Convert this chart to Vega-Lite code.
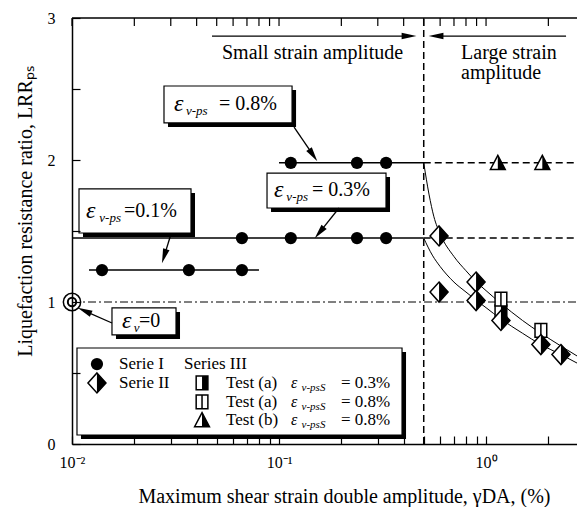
{
  "$schema": "https://vega.github.io/schema/vega-lite/v6.json",
  "width": 505,
  "height": 426,
  "autosize": "none",
  "padding": {"left": 72, "top": 18, "right": 0, "bottom": 63},
  "background": "white",
  "config": {
    "view": {"stroke": null},
    "font": "Liberation Serif",
    "axis": {
      "domainColor": "black", "domainWidth": 1.5, "tickColor": "black", "tickWidth": 1.2,
      "labelColor": "black", "titleColor": "black", "labelFont": "Liberation Serif", "titleFont": "Liberation Serif",
      "labelFontSize": 16, "titleFontSize": 20, "titleFontWeight": "normal", "grid": false
    }
  },
  "datasets": {
    "frame": [{"x": 0.01, "xe": 2.75, "y": 3}],
    "topticks": [
      {"x": 0.01, "y": 3}, {"x": 0.02, "y": 3}, {"x": 0.03, "y": 3}, {"x": 0.04, "y": 3}, {"x": 0.05, "y": 3},
      {"x": 0.06, "y": 3}, {"x": 0.07, "y": 3}, {"x": 0.08, "y": 3}, {"x": 0.09, "y": 3}, {"x": 0.1, "y": 3},
      {"x": 0.2, "y": 3}, {"x": 0.3, "y": 3}, {"x": 0.4, "y": 3}, {"x": 0.5, "y": 3}, {"x": 0.6, "y": 3},
      {"x": 0.7, "y": 3}, {"x": 0.8, "y": 3}, {"x": 0.9, "y": 3}, {"x": 1, "y": 3}, {"x": 2, "y": 3}
    ],
    "boxes": [
      {"x": 0.02782, "xe": 0.1156, "y": 2.521, "ye": 2.261},
      {"x": 0.01081, "xe": 0.03757, "y": 1.796, "ye": 1.486},
      {"x": 0.0875, "xe": 0.3287, "y": 1.908, "ye": 1.662},
      {"x": 0.0156, "xe": 0.0318, "y": 0.958, "ye": 0.768},
      {"x": 0.01057, "xe": 0.3928, "y": 0.676, "ye": 0.0634}
    ],
    "lines": [
      {"id": "s1", "k": "solid", "x": 0.01208, "y": 1.225}, {"id": "s1", "k": "solid", "x": 0.08, "y": 1.225},
      {"id": "s2", "k": "solid", "x": 0.01, "y": 1.45}, {"id": "s2", "k": "solid", "x": 0.5, "y": 1.45},
      {"id": "s3", "k": "solid", "x": 0.1, "y": 1.98}, {"id": "s3", "k": "solid", "x": 0.5, "y": 1.98},
      {"id": "d1", "k": "dash", "x": 0.5, "y": 1.98}, {"id": "d1", "k": "dash", "x": 2.75, "y": 1.98},
      {"id": "d2", "k": "dash", "x": 0.5, "y": 1.45}, {"id": "d2", "k": "dash", "x": 2.75, "y": 1.45},
      {"id": "v", "k": "dash", "x": 0.5, "y": 0}, {"id": "v", "k": "dash", "x": 0.5, "y": 3},
      {"id": "dd", "k": "dashdot", "x": 0.01, "y": 1}, {"id": "dd", "k": "dashdot", "x": 2.75, "y": 1},
      {"id": "c1", "k": "curve", "x": 0.5, "y": 1.98}, {"id": "c1", "k": "curve", "x": 0.53, "y": 1.76},
      {"id": "c1", "k": "curve", "x": 0.56, "y": 1.6}, {"id": "c1", "k": "curve", "x": 0.6, "y": 1.48},
      {"id": "c1", "k": "curve", "x": 0.7, "y": 1.32}, {"id": "c1", "k": "curve", "x": 0.8, "y": 1.22},
      {"id": "c1", "k": "curve", "x": 0.9, "y": 1.14}, {"id": "c1", "k": "curve", "x": 1.0, "y": 1.08},
      {"id": "c1", "k": "curve", "x": 1.18, "y": 0.99}, {"id": "c1", "k": "curve", "x": 1.5, "y": 0.87},
      {"id": "c1", "k": "curve", "x": 1.84, "y": 0.78}, {"id": "c1", "k": "curve", "x": 2.3, "y": 0.69},
      {"id": "c1", "k": "curve", "x": 2.75, "y": 0.62},
      {"id": "c2", "k": "curve", "x": 0.5, "y": 1.45}, {"id": "c2", "k": "curve", "x": 0.55, "y": 1.33},
      {"id": "c2", "k": "curve", "x": 0.6, "y": 1.25}, {"id": "c2", "k": "curve", "x": 0.7, "y": 1.14},
      {"id": "c2", "k": "curve", "x": 0.8, "y": 1.07}, {"id": "c2", "k": "curve", "x": 0.9, "y": 1.01},
      {"id": "c2", "k": "curve", "x": 1.0, "y": 0.96}, {"id": "c2", "k": "curve", "x": 1.18, "y": 0.88},
      {"id": "c2", "k": "curve", "x": 1.5, "y": 0.78}, {"id": "c2", "k": "curve", "x": 1.84, "y": 0.7},
      {"id": "c2", "k": "curve", "x": 2.3, "y": 0.63}, {"id": "c2", "k": "curve", "x": 2.75, "y": 0.57}
    ],
    "arrows": [
      {"id": "a1", "x": 0.1182, "y": 2.232}, {"id": "a1", "x": 0.1462, "y": 2.034},
      {"id": "a2", "x": 0.1949, "y": 1.662}, {"id": "a2", "x": 0.1567, "y": 1.489},
      {"id": "a3", "x": 0.03008, "y": 1.479}, {"id": "a3", "x": 0.02786, "y": 1.322},
      {"id": "a4", "x": 0.0156, "y": 0.852}, {"id": "a4", "x": 0.01148, "y": 0.938},
      {"id": "t1", "x": 0.04746, "y": 2.873}, {"id": "t1", "x": 0.4247, "y": 2.873},
      {"id": "t2", "x": 0.5734, "y": 2.873}, {"id": "t2", "x": 2.435, "y": 2.873}
    ],
    "heads": [
      {"x": 0.1462, "y": 2.034, "a": 146},
      {"x": 0.1567, "y": 1.489, "a": 219},
      {"x": 0.02786, "y": 1.322, "a": 197},
      {"x": 0.01148, "y": 0.938, "a": 294},
      {"x": 0.4247, "y": 2.873, "a": 90},
      {"x": 0.5734, "y": 2.873, "a": 270}
    ],
    "pts": [
      {"s": "I", "x": 0.01396, "y": 1.225}, {"s": "I", "x": 0.0367, "y": 1.225}, {"s": "I", "x": 0.0662, "y": 1.225},
      {"s": "I", "x": 0.0662, "y": 1.45}, {"s": "I", "x": 0.114, "y": 1.45}, {"s": "I", "x": 0.238, "y": 1.45}, {"s": "I", "x": 0.329, "y": 1.45},
      {"s": "I", "x": 0.114, "y": 1.98}, {"s": "I", "x": 0.238, "y": 1.98}, {"s": "I", "x": 0.329, "y": 1.98},
      {"s": "I", "x": 0.0132, "y": 0.563},
      {"s": "IIIa3", "x": 1.18, "y": 0.93}, {"s": "IIIa3", "x": 0.04247, "y": 0.43},
      {"s": "IIIa8", "x": 1.18, "y": 1.02}, {"s": "IIIa8", "x": 1.84, "y": 0.8}, {"s": "IIIa8", "x": 0.04247, "y": 0.296},
      {"s": "IIIb", "x": 1.14, "y": 1.98}, {"s": "IIIb", "x": 1.87, "y": 1.98}, {"s": "IIIb", "x": 0.04247, "y": 0.169},
      {"s": "II", "x": 0.593, "y": 1.465}, {"s": "II", "x": 0.593, "y": 1.07}, {"s": "II", "x": 0.895, "y": 1.14},
      {"s": "II", "x": 0.895, "y": 1.01}, {"s": "II", "x": 1.18, "y": 0.87}, {"s": "II", "x": 1.84, "y": 0.7},
      {"s": "II", "x": 2.3, "y": 0.63}, {"s": "II", "x": 0.0132, "y": 0.43},
      {"s": "O", "x": 0.01, "y": 1}
    ],
    "texts": [
      {"k": "eps", "x": 0.03111, "y": 2.394, "t": "ε"}, {"k": "sub", "x": 0.0355, "y": 2.394, "t": "v-ps"}, {"k": "main", "x": 0.05129, "y": 2.394, "t": "= 0.8%"},
      {"k": "eps", "x": 0.01168, "y": 1.641, "t": "ε"}, {"k": "sub", "x": 0.01355, "y": 1.641, "t": "v-ps"}, {"k": "main", "x": 0.01783, "y": 1.641, "t": "=0.1%"},
      {"k": "eps", "x": 0.0946, "y": 1.789, "t": "ε"}, {"k": "sub", "x": 0.1085, "y": 1.789, "t": "v-ps"}, {"k": "main", "x": 0.1443, "y": 1.789, "t": "= 0.3%"},
      {"k": "eps", "x": 0.01744, "y": 0.866, "t": "ε"}, {"k": "sub", "x": 0.0199, "y": 0.866, "t": "v"}, {"k": "main", "x": 0.02107, "y": 0.866, "t": "=0"},
      {"k": "main", "x": 0.05303, "y": 2.754, "t": "Small strain amplitude"},
      {"k": "main", "x": 0.7572, "y": 2.754, "t": "Large strain"},
      {"k": "main", "x": 0.7572, "y": 2.613, "t": "amplitude"},
      {"k": "leg", "x": 0.01687, "y": 0.563, "t": "Serie I"}, {"k": "leg", "x": 0.03476, "y": 0.563, "t": "Series III"},
      {"k": "leg", "x": 0.01687, "y": 0.43, "t": "Serie II"},
      {"k": "leg", "x": 0.05546, "y": 0.43, "t": "Test (a)"}, {"k": "leg", "x": 0.05546, "y": 0.296, "t": "Test (a)"}, {"k": "leg", "x": 0.05546, "y": 0.169, "t": "Test (b)"},
      {"k": "legeps", "x": 0.1143, "y": 0.43, "t": "ε"}, {"k": "legeps", "x": 0.1143, "y": 0.296, "t": "ε"}, {"k": "legeps", "x": 0.1143, "y": 0.169, "t": "ε"},
      {"k": "legsub", "x": 0.1285, "y": 0.43, "t": "v-psS"}, {"k": "legsub", "x": 0.1285, "y": 0.296, "t": "v-psS"}, {"k": "legsub", "x": 0.1285, "y": 0.169, "t": "v-psS"},
      {"k": "leg", "x": 0.1993, "y": 0.43, "t": "= 0.3%"}, {"k": "leg", "x": 0.1993, "y": 0.296, "t": "= 0.8%"}, {"k": "leg", "x": 0.1993, "y": 0.169, "t": "= 0.8%"}
    ]
  },
  "encoding": {
    "x": {"field": "x", "type": "quantitative", "scale": {"type": "log", "domain": [0.01, 2.75], "nice": false}, "axis": {
      "orient": "bottom", "title": "Maximum shear strain double amplitude, γDA, (%)",
      "values": [0.01, 0.02, 0.03, 0.04, 0.05, 0.06, 0.07, 0.08, 0.09, 0.1, 0.2, 0.3, 0.4, 0.5, 0.6, 0.7, 0.8, 0.9, 1, 2],
      "labelExpr": "datum.value == 0.01 ? '10⁻²' : (datum.value == 0.1 ? '10⁻¹' : (datum.value == 1 ? '10⁰' : ''))",
      "tickSize": -8, "labelPadding": 18, "labelFlush": false, "labelOverlap": false, "titlePadding": 16, "titleX": 272, "zindex": 2}},
    "y": {"field": "y", "type": "quantitative", "scale": {"domain": [0, 3], "nice": false, "zero": false}, "axis": {
      "orient": "left", "title": "Liquefaction resistance ratio, LRRₚₛ",
      "values": [0, 0.5, 1, 1.5, 2, 2.5, 3],
      "labelExpr": "datum.value % 1 == 0 ? format(datum.value, 'd') : ''",
      "tickSize": -8, "labelPadding": 25, "labelFlush": false, "labelOverlap": false, "titlePadding": 12, "titleY": 193, "zindex": 2}}
  },
  "layer": [
    {
      "data": {"name": "frame"},
      "mark": {"type": "rule", "color": "black", "strokeWidth": 1.5},
      "encoding": {"x2": {"field": "xe"}}
    },
    {
      "data": {"name": "topticks"},
      "mark": {"type": "tick", "orient": "vertical", "size": 8, "thickness": 1.2, "color": "black", "opacity": 1, "yOffset": 4}
    },
    {
      "data": {"name": "lines"},
      "transform": [{"filter": "datum.k == 'dash'"}],
      "mark": {"type": "line", "color": "black", "strokeWidth": 1.5, "strokeDash": [7, 4]},
      "encoding": {"detail": {"field": "id"}}
    },
    {
      "data": {"name": "lines"},
      "transform": [{"filter": "datum.k == 'dashdot'"}],
      "mark": {"type": "line", "color": "black", "strokeWidth": 1, "strokeDash": [8, 3, 2, 3]},
      "encoding": {"detail": {"field": "id"}}
    },
    {
      "data": {"name": "lines"},
      "transform": [{"filter": "datum.k == 'solid'"}],
      "mark": {"type": "line", "color": "black", "strokeWidth": 1.5},
      "encoding": {"detail": {"field": "id"}}
    },
    {
      "data": {"name": "lines"},
      "transform": [{"filter": "datum.k == 'curve'"}],
      "mark": {"type": "line", "color": "black", "strokeWidth": 1, "interpolate": "monotone"},
      "encoding": {"detail": {"field": "id"}}
    },
    {
      "data": {"name": "boxes"},
      "mark": {"type": "rect", "color": "black", "xOffset": 4, "x2Offset": 4, "yOffset": 4, "y2Offset": 4},
      "encoding": {"x2": {"field": "xe"}, "y2": {"field": "ye"}}
    },
    {
      "data": {"name": "boxes"},
      "mark": {"type": "rect", "fill": "white", "stroke": "black", "strokeWidth": 1.2},
      "encoding": {"x2": {"field": "xe"}, "y2": {"field": "ye"}}
    },
    {
      "data": {"name": "arrows"},
      "mark": {"type": "line", "color": "black", "strokeWidth": 1.3},
      "encoding": {"detail": {"field": "id"}}
    },
    {
      "data": {"name": "heads"},
      "mark": {"type": "point", "shape": "M0,-1L0.45,1L-0.45,1Z", "size": 220, "filled": true, "color": "black", "opacity": 1},
      "encoding": {"angle": {"field": "a", "type": "quantitative", "scale": null}}
    },
    {
      "data": {"name": "pts"},
      "transform": [{"filter": "datum.s == 'I'"}],
      "mark": {"type": "point", "shape": "circle", "size": 150, "filled": true, "color": "black", "opacity": 1}
    },
    {
      "data": {"name": "pts"},
      "transform": [{"filter": "datum.s == 'IIIa3'"}],
      "mark": {"type": "point", "shape": "M-0.85,-1L0.85,-1L0.85,1L-0.85,1Z", "size": 190, "filled": true, "fill": "white", "stroke": "black", "strokeWidth": 1.5, "opacity": 1}
    },
    {
      "data": {"name": "pts"},
      "transform": [{"filter": "datum.s == 'IIIa3'"}],
      "mark": {"type": "point", "shape": "M0,-1L0.85,-1L0.85,1L0,1Z", "size": 190, "filled": true, "color": "black", "opacity": 1}
    },
    {
      "data": {"name": "pts"},
      "transform": [{"filter": "datum.s == 'IIIa8'"}],
      "mark": {"type": "point", "shape": "M-0.85,-1L0.85,-1L0.85,1L-0.85,1ZM0,-1L0,1", "size": 190, "filled": true, "fill": "white", "stroke": "black", "strokeWidth": 1.5, "opacity": 1}
    },
    {
      "data": {"name": "pts"},
      "transform": [{"filter": "datum.s == 'IIIb'"}],
      "mark": {"type": "point", "shape": "M0,-1L1,0.9L-1,0.9Z", "size": 220, "filled": true, "fill": "white", "stroke": "black", "strokeWidth": 1.5, "opacity": 1}
    },
    {
      "data": {"name": "pts"},
      "transform": [{"filter": "datum.s == 'IIIb'"}],
      "mark": {"type": "point", "shape": "M0,-1L1,0.9L0,0.9Z", "size": 220, "filled": true, "color": "black", "opacity": 1}
    },
    {
      "data": {"name": "pts"},
      "transform": [{"filter": "datum.s == 'II'"}],
      "mark": {"type": "point", "shape": "M0,-1L0.9,0L0,1L-0.9,0Z", "size": 400, "filled": true, "fill": "white", "stroke": "black", "strokeWidth": 1.5, "opacity": 1}
    },
    {
      "data": {"name": "pts"},
      "transform": [{"filter": "datum.s == 'II'"}],
      "mark": {"type": "point", "shape": "M0,-1L0.9,0L0,1Z", "size": 400, "filled": true, "color": "black", "opacity": 1}
    },
    {
      "data": {"name": "pts"},
      "transform": [{"filter": "datum.s == 'O'"}],
      "mark": {"type": "point", "shape": "circle", "size": 300, "filled": true, "fill": "white", "stroke": "black", "strokeWidth": 1.5, "opacity": 1}
    },
    {
      "data": {"name": "pts"},
      "transform": [{"filter": "datum.s == 'O'"}],
      "mark": {"type": "point", "shape": "circle", "size": 70, "filled": true, "fill": "white", "stroke": "black", "strokeWidth": 2, "opacity": 1}
    },
    {
      "data": {"name": "texts"},
      "transform": [{"filter": "datum.k == 'main'"}],
      "mark": {"type": "text", "align": "left", "baseline": "middle", "fontSize": 20, "font": "Liberation Serif", "color": "black"},
      "encoding": {"text": {"field": "t"}}
    },
    {
      "data": {"name": "texts"},
      "transform": [{"filter": "datum.k == 'eps'"}],
      "mark": {"type": "text", "align": "left", "baseline": "middle", "fontSize": 24, "fontStyle": "italic", "font": "Liberation Serif", "color": "black"},
      "encoding": {"text": {"field": "t"}}
    },
    {
      "data": {"name": "texts"},
      "transform": [{"filter": "datum.k == 'sub'"}],
      "mark": {"type": "text", "align": "left", "baseline": "middle", "fontSize": 13, "fontStyle": "italic", "font": "Liberation Serif", "color": "black", "dy": 7},
      "encoding": {"text": {"field": "t"}}
    },
    {
      "data": {"name": "texts"},
      "transform": [{"filter": "datum.k == 'leg'"}],
      "mark": {"type": "text", "align": "left", "baseline": "middle", "fontSize": 17, "font": "Liberation Serif", "color": "black"},
      "encoding": {"text": {"field": "t"}}
    },
    {
      "data": {"name": "texts"},
      "transform": [{"filter": "datum.k == 'legeps'"}],
      "mark": {"type": "text", "align": "left", "baseline": "middle", "fontSize": 16, "fontStyle": "italic", "font": "Liberation Serif", "color": "black"},
      "encoding": {"text": {"field": "t"}}
    },
    {
      "data": {"name": "texts"},
      "transform": [{"filter": "datum.k == 'legsub'"}],
      "mark": {"type": "text", "align": "left", "baseline": "middle", "fontSize": 11, "fontStyle": "italic", "font": "Liberation Serif", "color": "black", "dy": 5},
      "encoding": {"text": {"field": "t"}}
    }
  ]
}
